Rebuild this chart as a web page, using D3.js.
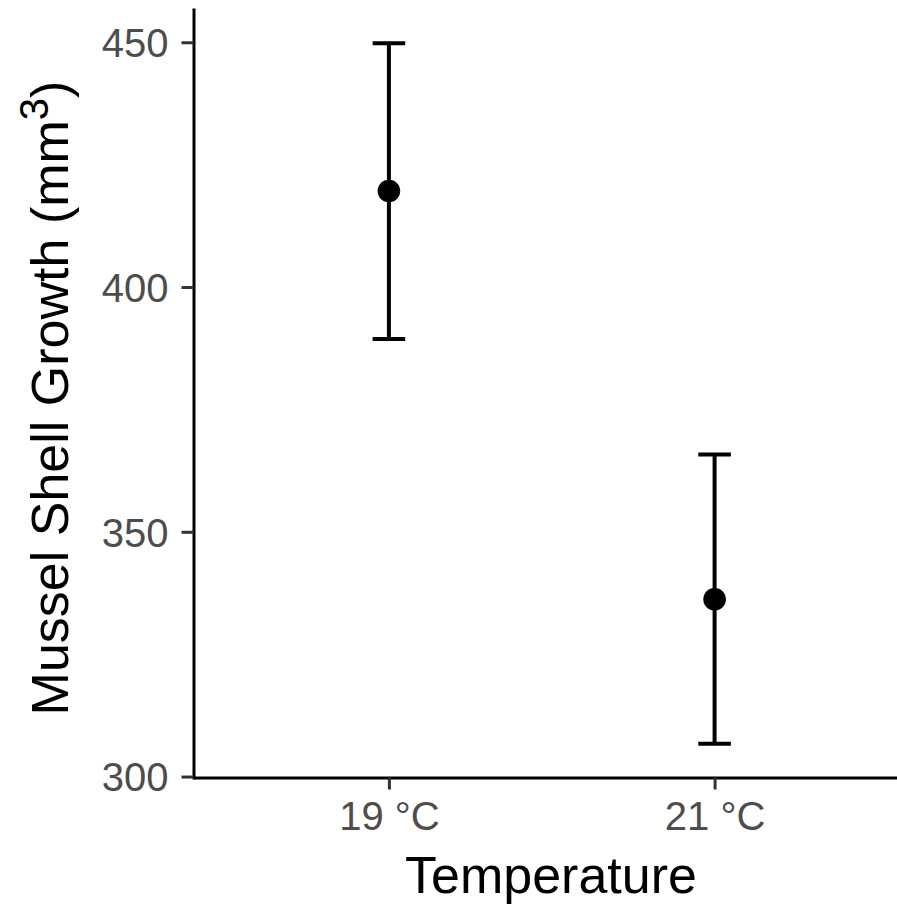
<!DOCTYPE html>
<html>
<head>
<meta charset="utf-8">
<script src="https://cdn.jsdelivr.net/npm/d3@7"></script>
<style>
  body { margin: 0; background: #fff; }
  svg { display: block; font-family: "Liberation Sans", Arial, Helvetica, sans-serif; }
  .tick text { fill: #4d4d4d; }
</style>
</head>
<body>
<svg id="chart" width="897" height="904"></svg>
<script>
// values
var temps = ["19 °C", "21 °C"];
var means = [419.6, 336.2];
var lower = [389.4, 306.7];
var upper = [449.8, 365.8];
var yTicks = [300, 350, 400, 450];

var svg = d3.select("#chart");
var width = 897;
var height = 904;

var x = d3.scalePoint()
  .domain(temps)
  .range([193.5, 910])
  .padding(0.6);

var y = d3.scaleLinear()
  .domain([299.5, 457])
  .range([779, 8]);

var rows = temps.map(function(t, i) {
  return { temp: t, mean: means[i], lo: lower[i], hi: upper[i] };
});

// y axis
var yAxis = svg.append("g")
  .attr("transform", "translate(193.5,0)")
  .call(d3.axisLeft(y).tickValues(yTicks).tickSize(12).tickSizeOuter(0).tickPadding(13));
yAxis.select(".domain").attr("stroke", "#000").attr("stroke-width", 3);
yAxis.selectAll(".tick line").attr("stroke", "#333").attr("stroke-width", 3);
yAxis.selectAll(".tick text").attr("font-size", 40).attr("dy", "0.36em");

// x axis
var xAxis = svg.append("g")
  .attr("transform", "translate(0,777.5)")
  .call(d3.axisBottom(x).tickSize(12).tickSizeOuter(0).tickPadding(12));
xAxis.select(".domain").attr("stroke", "#000").attr("stroke-width", 3);
xAxis.selectAll(".tick line").attr("stroke", "#333").attr("stroke-width", 3);
xAxis.selectAll(".tick text").attr("font-size", 40).attr("dy", "0.72em");

// error bars
var capHalf = x.step() * 0.05;
var bars = svg.append("g").selectAll("g")
  .data(rows)
  .enter()
  .append("g");

bars.append("line")
  .attr("x1", function(d) { return x(d.temp); })
  .attr("x2", function(d) { return x(d.temp); })
  .attr("y1", function(d) { return y(d.lo); })
  .attr("y2", function(d) { return y(d.hi); })
  .attr("stroke", "#000").attr("stroke-width", 4);

bars.append("line")
  .attr("x1", function(d) { return x(d.temp) - capHalf; })
  .attr("x2", function(d) { return x(d.temp) + capHalf; })
  .attr("y1", function(d) { return y(d.hi); })
  .attr("y2", function(d) { return y(d.hi); })
  .attr("stroke", "#000").attr("stroke-width", 4);

bars.append("line")
  .attr("x1", function(d) { return x(d.temp) - capHalf; })
  .attr("x2", function(d) { return x(d.temp) + capHalf; })
  .attr("y1", function(d) { return y(d.lo); })
  .attr("y2", function(d) { return y(d.lo); })
  .attr("stroke", "#000").attr("stroke-width", 4);

bars.append("circle")
  .attr("cx", function(d) { return x(d.temp); })
  .attr("cy", function(d) { return y(d.mean); })
  .attr("r", 11.3)
  .attr("fill", "#000");

// axis titles
svg.append("text")
  .attr("x", 551)
  .attr("y", 893)
  .attr("text-anchor", "middle")
  .attr("font-size", 52)
  .attr("fill", "#000")
  .text("Temperature");

var yTitle = svg.append("text")
  .attr("transform", "translate(68,398) rotate(-90)")
  .attr("text-anchor", "middle")
  .attr("font-size", 52)
  .attr("fill", "#000");
yTitle.append("tspan").text("Mussel Shell Growth (mm");
yTitle.append("tspan").attr("font-size", 40).attr("dy", -20).text("3");
yTitle.append("tspan").attr("dy", 20).text(")");
</script>
</body>
</html>
